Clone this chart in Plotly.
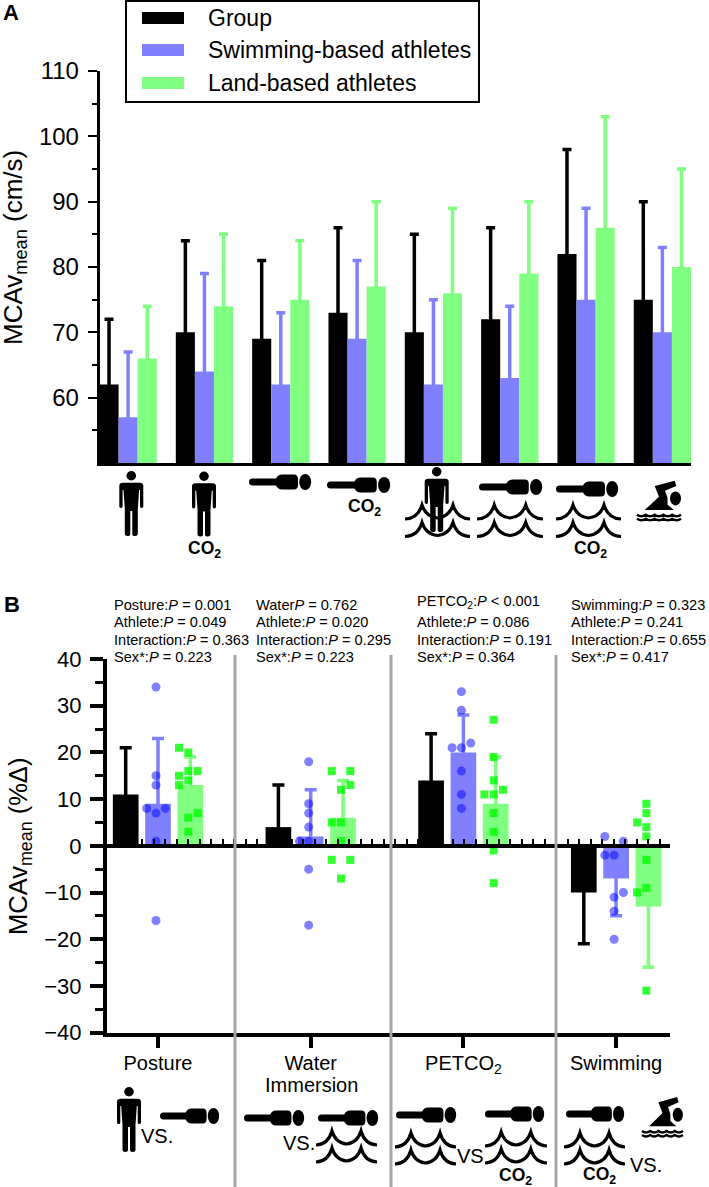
import re
import plotly.graph_objects as go

W, H = 709, 1187
FONT = "Liberation Sans"
BLACK, BLUE, GREEN = "#000000", "#8080ff", "#80ff80"

# ---------- Panel A data ----------
a_group = [62, 70, 69, 73, 70, 72, 82, 75]
a_group_top = [72, 84, 81, 86, 85, 86, 98, 90]
a_swim = [57, 64, 62, 69, 62, 63, 75, 70]
a_swim_top = [67, 79, 73, 81, 75, 74, 89, 83]
a_land = [66, 74, 75, 77, 76, 79, 86, 80]
a_land_top = [74, 85, 84, 90, 89, 90, 103, 95]

# ---------- Panel B data ----------
b_labels = ["Posture", "Water", "PETCO<sub>2</sub>", "Swimming"]
b_group = [11, 4, 14, -10]
b_group_end = [21, 13, 24, -21]
b_swim = [9, 2, 20, -7]
b_swim_end = [23, 12, 28, -15]
b_land = [13, 6, 9, -13]
b_land_end = [19, 14, 19, -26]

swim_pts = [
    [34, 15, 13, 8, 8, 7, 1, -16],
    [18, 9, 7, 4, 1, 1, -5, -17],
    [33, 29, 22, 21, 21, 16, 11, 8],
    [2, 1, -2, -2, -10, -11, -14, -20],
]
swim_slots = [
    [0, 0, 0, -1, 1, 0, 0, 0],
    [0, 0, 0, 0, -1, 0, 0, 0],
    [0, 0, 1, -1, 0, 0, 0, 0],
    [-1, 1, -1, 0, 1, 0, 0, 0],
]
land_pts = [
    [21, 20, 16, 16, 15, 14, 13, 7, 6, 3],
    [16, 16, 13, 12, 5, 5, 1, -3, -3, -7],
    [27, 19, 14, 12, 11, 11, 7, 3, -1, -8],
    [9, 7, 5, 4, 2, -3, -9, -10, -31],
]
land_slots = [
    [-1, 0, 0, 1, -1, 0, -1, 1, 0, 0],
    [-1, 1, 1, 0, -1, 0, 0, -1, 1, 0],
    [0, 0, 0, 1, -1, 0, 0, 0, 0, 0],
    [0, 0, -1, 0, 0, 0, 0, -1, 0],
]

stats = [
    (114, [(605, "Posture:<i>P</i> = 0.001"), (622, "Athlete:<i>P</i> = 0.049"),
           (640, "Interaction:<i>P</i> = 0.363"), (657, "Sex*:<i>P</i> = 0.223")]),
    (256, [(605, "Water<i>P</i> = 0.762"), (622, "Athlete:<i>P</i> = 0.020"),
           (640, "Interaction:<i>P</i> = 0.295"), (657, "Sex*:<i>P</i> = 0.223")]),
    (417, [(602, "PETCO<sub>2</sub>:<i>P</i> < 0.001"), (622, "Athlete:<i>P</i> = 0.086"),
           (640, "Interaction:<i>P</i> = 0.191"), (657, "Sex*:<i>P</i> = 0.364")]),
    (571, [(605, "Swimming:<i>P</i> = 0.323"), (622, "Athlete:<i>P</i> = 0.241"),
           (640, "Interaction:<i>P</i> = 0.655"), (657, "Sex*:<i>P</i> = 0.417")]),
]


def fx(x):
    return x / W


def fy(y):
    return 1 - y / H


shapes, annos = [], []


def path(cmds, ox, oy, sx=1.0, sy=1.0, fill="black", lw=0):
    toks = re.findall(r"[A-Za-z]|-?\d+\.?\d*", cmds)
    out, isx = [], True
    for t in toks:
        if t.isalpha():
            out.append(t)
        elif isx:
            out.append(f"{fx(ox + float(t) * sx):.5f},")
            isx = False
        else:
            out.append(f"{fy(oy + float(t) * sy):.5f}")
            isx = True
    shapes.append(dict(type="path", xref="paper", yref="paper", path=" ".join(out),
                       fillcolor=fill if fill else "rgba(0,0,0,0)",
                       line=dict(color="black", width=lw), layer="above"))


def ellipse(cx, cy, rx, ry):
    shapes.append(dict(type="circle", xref="paper", yref="paper",
                       x0=fx(cx - rx), x1=fx(cx + rx), y0=fy(cy + ry), y1=fy(cy - ry),
                       fillcolor="black", line=dict(width=0), layer="above"))


def person(cx, top):
    ellipse(cx, top + 4.7, 4.8, 4.7)
    path("M -8.5 11.7 L 8.5 11.7 Q 12 11.7 12 15 L 12 35.5 Q 12 37 10.2 37 Q 8.7 37 8.7 35.5 L 8.7 19 "
         "L 7.8 19 L 6.5 38 L 6.5 63 Q 6.5 65 3.8 65 Q 1 65 1 63 L 1 40 L -1 40 L -1 63 Q -1 65 -3.8 65 "
         "Q -6.5 65 -6.5 63 L -6.5 38 L -7.8 19 L -8.7 19 L -8.7 35.5 Q -8.7 37 -10.2 37 Q -12 37 -12 35.5 "
         "L -12 15 Q -12 11.7 -8.5 11.7 Z",
         cx, top)


def lying(x0, x1, yc):
    s = (x1 - x0) / 62
    path("M 3.5 -3.5 L 27 -3.5 Q 29 -7.5 33 -7.5 L 45 -7.5 Q 49 -7.5 49 -3 L 49 3 Q 49 7.5 45 7.5 "
         "L 33 7.5 Q 29 7.5 27 3.5 L 3.5 3.5 Q 0 3.5 0 0 Q 0 -3.5 3.5 -3.5 Z", x0, yc, s, 1)
    ellipse(x0 + 56.2 * s, yc, 6 * s, 8)


def wave_row(x0, x1, top, h):
    path("M 0 14 Q 13 13.5 17 0 Q 21 12 32.5 13 Q 44 12 48 0 Q 52 13.5 65 14",
         x0, top, (x1 - x0) / 65, h / 14, fill=None, lw=3.2)


def waves(x0, x1, top1, top2):
    wave_row(x0, x1, top1, 14)
    wave_row(x0, x1, top2, 14)


def swimmer(x0, y0, s=1.0):
    path("M 17.7 5.3 L 37.7 0 L 39.3 5.3 L 28 10 L 30.5 17 L 30.5 24 L 37 29.3 L 7.7 29.3 L 22 16 Z", x0, y0, s, 1)
    ellipse(x0 + 38.5 * s, y0 + 17.7, 5.5 * s, 7)
    for dy in (34, 38):
        path("M 0 0 Q 4.4 3 8.8 0 Q 13.2 3 17.6 0 Q 22 3 26.4 0 Q 30.8 3 35.2 0 Q 39.6 3 44 0",
             x0, y0 + dy, s, 1, fill=None, lw=2.4)


def text(x, y, s, size, bold=False, anchor="center", angle=0):
    annos.append(dict(xref="paper", yref="paper", x=fx(x - 2 if anchor == "left" else x), y=fy(y),
                      text=f"<b>{s}</b>" if bold else s, textangle=angle,
                      showarrow=False, xanchor=anchor, yanchor="middle",
                      font=dict(family=FONT, size=size, color="black")))


CO2 = "CO<sub>2</sub>"

# panel A pictograms
person(131.3, 471)
person(204, 471.5)
text(204.7, 549, CO2, 17.5, True)
lying(249, 311, 482)
lying(327, 390, 485)
text(364, 507, CO2, 17.5, True)
person(436.7, 467)
waves(405, 470, 505, 522.5)
lying(479, 542, 487)
waves(477, 543, 505, 522.5)
lying(556, 618, 489)
waves(556, 621, 505, 522.5)
text(590.5, 549, CO2, 17.5, True)
swimmer(637, 480.7)

# panel B pictograms
person(129, 1087)
lying(160, 219, 1116)
text(157, 1136, "VS.", 20)
lying(244, 304, 1118)
lying(318, 378, 1118)
waves(316, 377, 1131, 1148)
text(299, 1143, "VS.", 20)
lying(396, 456, 1115)
waves(395, 456, 1133, 1150)
text(470, 1156, "VS", 20)
lying(485, 544, 1114)
waves(485, 547, 1132, 1149)
text(515, 1176, CO2, 17.5, True)
lying(566, 624, 1114)
waves(564, 625, 1133, 1150)
text(599, 1175, CO2, 17.5, True)
text(646, 1165, "VS.", 20)
swimmer(642, 1097, 0.93)

# panel letters and axis titles
text(11, 12, "A", 22, True)
text(11.5, 605, "B", 22, True)
text(311, 1085, "Immersion", 20)
text(15, 248, "MCAv<sub>mean</sub> (cm/s)", 26, angle=-90)
text(20, 847, "MCAv<sub>mean</sub> (%Δ)", 25.5, angle=-90)

# statistics text
for x, rows in stats:
    for y, s in rows:
        text(x, y, s, 14.6, anchor="left")

# legend box
shapes.append(dict(type="rect", xref="paper", yref="paper", x0=fx(126), x1=fx(479), y0=fy(102), y1=fy(1),
                   line=dict(color="black", width=2), fillcolor="white", layer="above"))
for yc, c, name in [(18, BLACK, "Group"), (50, BLUE, "Swimming-based athletes"), (83, GREEN, "Land-based athletes")]:
    shapes.append(dict(type="rect", xref="paper", yref="paper", x0=fx(142), x1=fx(184), y0=fy(yc + 6), y1=fy(yc - 6),
                       line=dict(width=0), fillcolor=c, layer="above"))
    text(208, yc, name, 23, anchor="left")

# grey separators
for x in (235, 391, 556):
    shapes.append(dict(type="line", xref="paper", yref="paper", x0=fx(x), x1=fx(x), y0=fy(655), y1=fy(1187),
                       line=dict(color="#a6a6a6", width=3), layer="above"))

fig = go.Figure()

# ---------- Panel A traces ----------
A_STEP = 0.25
for k, (name, c, vals, tops) in enumerate([
    ("Group", BLACK, a_group, a_group_top),
    ("Swimming-based athletes", BLUE, a_swim, a_swim_top),
    ("Land-based athletes", GREEN, a_land, a_land_top),
]):
    fig.add_trace(go.Bar(
        x=[i + (k - 1) * A_STEP for i in range(len(vals))], y=vals, width=A_STEP, name=name,
        marker=dict(color=c, line=dict(width=0)), xaxis="x", yaxis="y", showlegend=False,
        error_y=dict(type="data", symmetric=False, array=[t - v for t, v in zip(tops, vals)],
                     arrayminus=[1] * len(vals), color=c, thickness=3.5, width=4.5),
    ))

# ---------- Panel B traces ----------
B_STEP = 32.3 / 152.7
B_W = 25.7 / 152.7
SLOT = 9.3 / 152.7
for k, (name, c, vals, ends) in enumerate([
    ("Group", BLACK, b_group, b_group_end),
    ("Swimming-based athletes", BLUE, b_swim, b_swim_end),
    ("Land-based athletes", GREEN, b_land, b_land_end),
]):
    fig.add_trace(go.Bar(
        x=[i + (k - 1) * B_STEP for i in range(len(vals))], y=vals, width=B_W, name=name,
        marker=dict(color=c, line=dict(width=0)), xaxis="x2", yaxis="y2", showlegend=False,
        error_y=dict(type="data", symmetric=False,
                     array=[max(e - v, 1) for e, v in zip(ends, vals)],
                     arrayminus=[max(v - e, 1) for e, v in zip(ends, vals)],
                     color=c, thickness=3.5, width=6),
    ))

for offs, pts, slots, col, sym, size in [
    (0, swim_pts, swim_slots, "rgba(0,0,255,0.5)", "circle", 9),
    (1, land_pts, land_slots, "rgba(0,255,0,0.8)", "square", 8),
]:
    xs, ys = [], []
    for i, (p, s) in enumerate(zip(pts, slots)):
        for v, sl in zip(p, s):
            xs.append(i + offs * B_STEP - 2 / 152.7 + sl * SLOT)
            ys.append(v)
    fig.add_trace(go.Scatter(x=xs, y=ys, mode="markers", xaxis="x2", yaxis="y2", showlegend=False,
                             marker=dict(color=col, symbol=sym, size=size, line=dict(width=0))))

# carrier for the zero-line axis
fig.add_trace(go.Scatter(x=[0], y=[0], mode="markers", marker=dict(opacity=0, size=1), xaxis="x3", yaxis="y2",
                         showlegend=False, hoverinfo="skip"))

xr2 = [(107 - 158) / 152.7, (670 - 158) / 152.7]

fig.update_layout(
    width=W, height=H, margin=dict(l=0, r=0, t=0, b=0), autosize=False,
    paper_bgcolor="white", plot_bgcolor="rgba(0,0,0,0)", barmode="overlay",
    font=dict(family=FONT, color="black"), shapes=shapes, annotations=annos,
    xaxis=dict(domain=[fx(99.5), fx(691)], range=[-0.375, 7.375], anchor="y", showgrid=False, zeroline=False,
               automargin=False,
               showticklabels=False, ticks="", showline=True, linecolor="black", linewidth=3),
    yaxis=dict(domain=[fy(463), fy(71)], range=[50, 110], anchor="x", showgrid=False, zeroline=False,
               automargin=False,
               tickvals=[60, 70, 80, 90, 100, 110], ticks="outside", ticklen=9, tickwidth=2, tickcolor="black",
               tickfont=dict(size=24), showline=True, linecolor="black", linewidth=2.5, ticklabelstandoff=4,
               minor=dict(tickvals=[55, 65, 75, 85, 95, 105], ticks="outside", ticklen=5, tickwidth=2, tickcolor="black")),
    xaxis2=dict(domain=[fx(107), fx(670)], range=xr2, anchor="y2", showgrid=False, zeroline=False,
                automargin=False,
                tickvals=[0, 1, 2, 3], ticktext=b_labels, ticks="outside", ticklen=11, tickwidth=3.5, tickcolor="black",
                tickfont=dict(size=20), showline=True, linecolor="black", linewidth=4, ticklabelstandoff=-2),
    yaxis2=dict(domain=[fy(1032.6), fy(659)], range=[-40, 40], anchor="x2", showgrid=False, zeroline=False,
                automargin=False,
                tickvals=list(range(-40, 41, 10)), ticks="outside", ticklen=13, tickwidth=4, tickcolor="black",
                tickfont=dict(size=22), showline=True, linecolor="black", linewidth=4, ticklabelstandoff=4,
                minor=dict(tickvals=list(range(-35, 40, 10)), ticks="outside", ticklen=8, tickwidth=3, tickcolor="black")),
    xaxis3=dict(domain=[fx(107), fx(670)], range=xr2, overlaying="x2", anchor="free", position=fy(846), side="bottom",
                automargin=False,
                showgrid=False, zeroline=False, showticklabels=False, ticks="inside", ticklen=5, tickwidth=2,
                tickcolor="black", tick0=(510 - 158) / 152.7, dtick=11.5 / 152.7,
                showline=True, linecolor="black", linewidth=4),
)

fig.write_html("out.html", config={"displayModeBar": False}, post_script="document.body.style.margin='0';")
